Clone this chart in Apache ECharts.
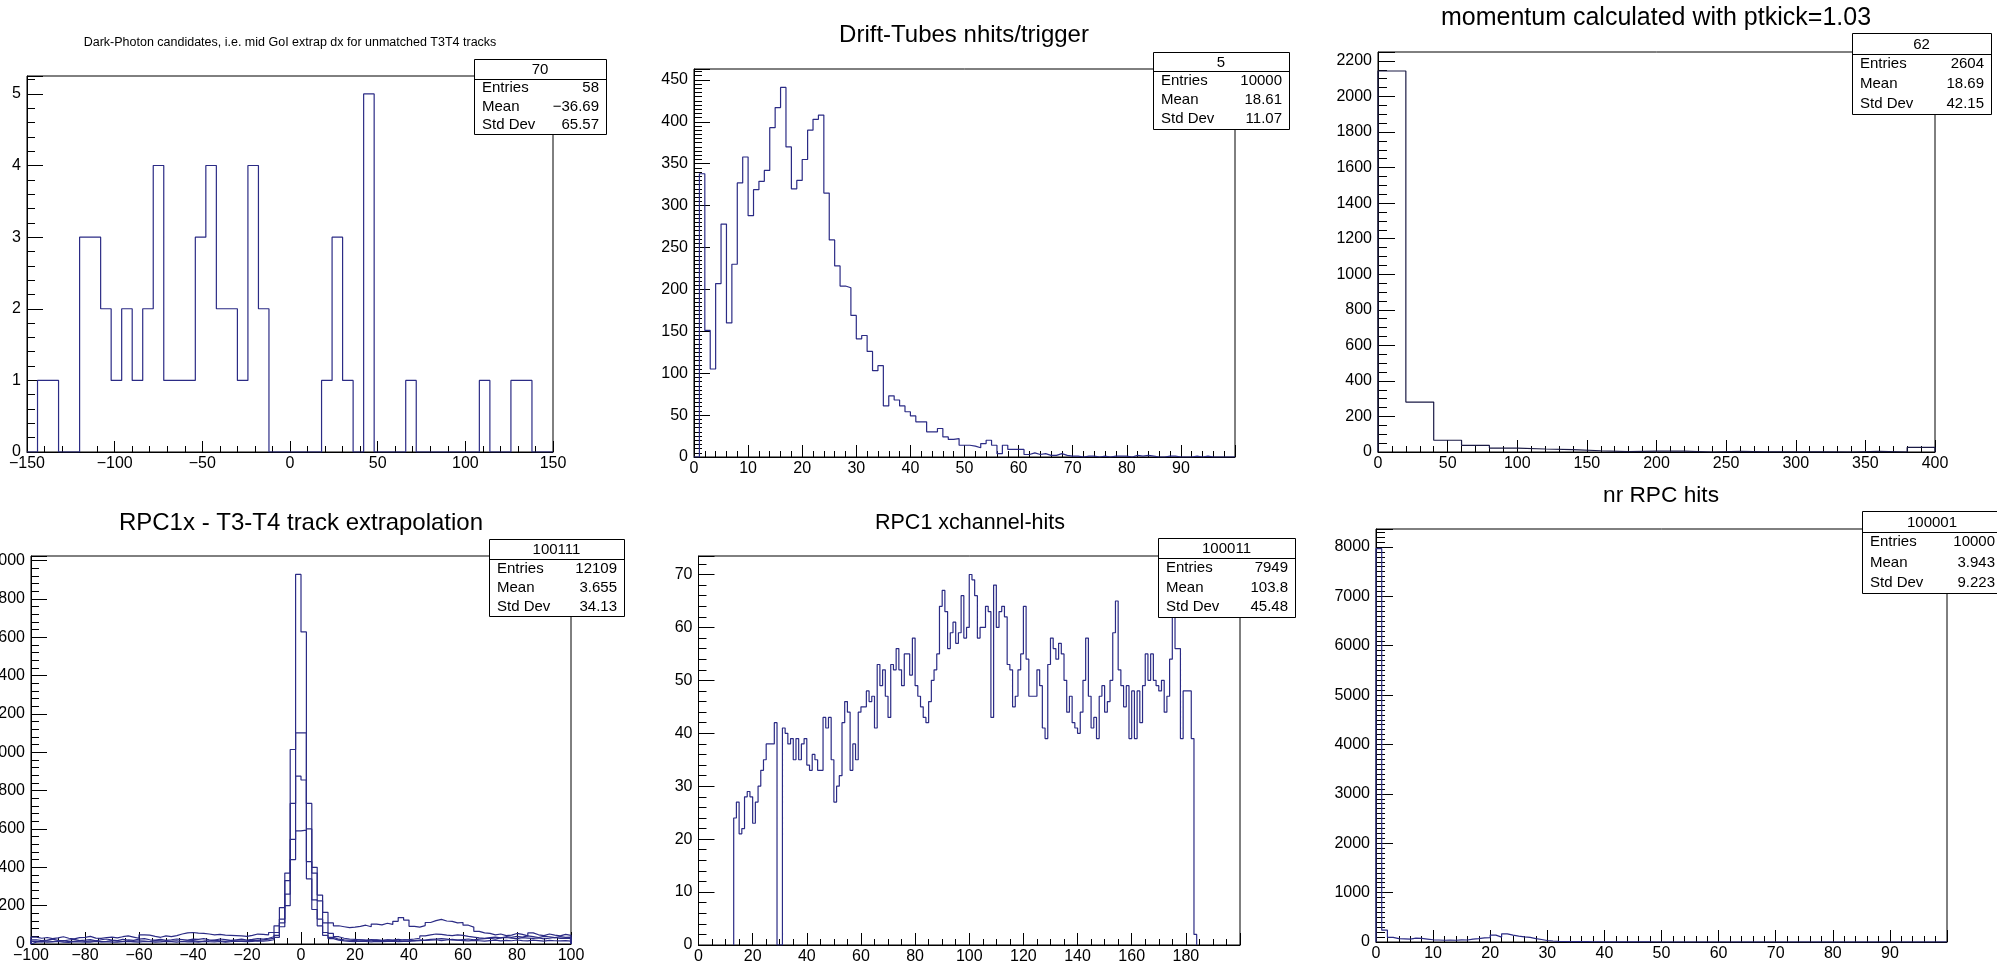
<!DOCTYPE html>
<html>
<head>
<meta charset="utf-8">
<script src="https://cdn.jsdelivr.net/npm/echarts@6/dist/echarts.min.js"></script>
<style>
  html, body { margin: 0; padding: 0; background: #ffffff; }
  #canvas { width: 1997px; height: 964px; }
</style>
</head>
<body>
<div id="canvas"></div>
<script>
// ---------------- histogram contents ----------------

// Pad 1: dark-photon candidates, dx in bins of 6 from -150
const darkPhotonLow = -150, darkPhotonWidth = 6;
const darkPhotonCounts = [0,1,1,0,0,3,3,2,1,2, 1,2,4,1,1,1,3,4,2,2, 1,4,2,0,0,0,0,0,1,3,
                          1,0,5,0,0,0,1,0,0,0, 0,0,0,1,0,0,1,1,0,0];

// Pad 2: drift-tube hits per trigger, unit bins from 0
const driftLow = 0, driftWidth = 1;
const driftCounts = [0,
  338,151,105,207,278,160,230,327,358,288,319,329,342,393,417,441,370,320,330,355,390,403,408,
  315,259,228,204,202,169,141,145,126,103,109,61,73,68,61,54,49,
  42,42,30,30,34,24,21,22,14,14,13,11,16,20,14,4,14,9,9,9,3,5,3,4,2,2,4,2,1,
  1,0,1,1,0,1,0,1,1,1,0,2,1,2,1,0,0,1,1,0,0,0,1,0,1,0,0,0,0,0];

// Pad 3: momentum with ptkick=1.03, bins of 20 from 0
const momentumLow = 0, momentumWidth = 20;
const momentumCounts = [2143,281,66,37,22,17,13,7,2,5,5,0,4,1,1,1,0,3,0,26];

// Pad 4: RPC1x - track extrapolation, four overlaid histograms, bins of 2 from -100
const rpcResLow = -100, rpcResWidth = 2;
const rpcResAll = [
  36,30,34,28,32,38,30,27,33,35,40,31,29,34,36,32,38,42,36,30,48,46,40,35,42,38,44,52,58,60,
  57,55,52,48,50,46,45,44,42,40,45,52,50,48,60,
  95,190,370,1014,1927,1627,733,400,255,165,110,95,90,
  85,88,92,98,90,104,100,108,102,118,138,125,92,88,96,112,122,128,120,118,110,112,98,88,66,58,55,
  48,52,44,46,55,50,42,58,48,44,52,46,42,50,45];
const rpcResB = [
  22,18,20,25,19,16,21,24,18,20,23,17,22,26,20,18,24,21,19,25,28,22,20,24,19,22,26,23,20,25,
  24,28,22,20,26,23,19,22,25,21,24,28,26,30,38,
  60,130,330,733,1101,1101,600,370,225,110,55,38,30,
  26,24,22,20,23,21,19,22,20,24,21,23,26,30,42,48,52,50,46,44,48,45,40,36,32,
  30,34,36,32,38,35,40,36,42,38,34,40,37,33,38,35,36];
const rpcResC = [
  14,12,16,13,15,18,12,14,17,13,15,16,12,14,18,15,13,16,14,17,15,13,18,16,14,15,17,13,16,18,
  14,15,17,19,16,14,18,15,17,16,20,18,22,25,30,
  45,110,260,545,875,855,430,230,130,60,35,25,22,
  20,18,22,19,17,20,18,21,19,17,22,20,18,21,19,20,22,18,21,24,20,23,26,22,25,28,30,26,32,34,
  30,28,33,31,29,32,27,30,34,29,31,28];
const rpcResD = [
  10,12,9,11,13,10,8,12,11,9,10,13,11,12,10,9,12,14,11,10,13,12,10,11,14,12,9,13,11,12,
  10,14,12,11,13,10,12,15,13,12,14,16,15,18,22,
  35,90,200,440,590,594,340,180,95,45,28,20,16,
  14,12,15,13,11,14,12,13,15,12,14,13,16,18,20,24,26,28,25,22,20,18,16,19,17,15,18,20,16,19,
  17,21,18,16,20,18,15,19,17,16,18,15];

// Pad 5: RPC1 x-channel hits, one bin per channel, first filled channel 13
const xchanFirst = 13, xchanWidth = 1;
const xchanCounts = [
  24,27,21,22,28,29,28,23,27,30,33,35,38,38,38,42, 0,0, 41,40,
  38,39,35,39,35,38,39,34,33,36,35,33,33,43,41,43,35,27,30,32,42,46,44,33,38,35,44,45,45,
  48,46,47,41,53,49,52,47,43,53,52,56,52,49,55,55,51,58,49,47,
  45,43,42,46,50,52,55,64,67,63,56,59,61,57,59,66,58,60,70,69,66,58,60,60,64,63,43,68,60,63,
  64,62,53,52,45,47,52,55,64,54,47,47,47,52,49,41,39,53,58,56,
  54,57,55,50,44,47,42,41,40,44,50,58,47,41,43,39,47,49,44,46,50,59,65,52,49,45,49,39,48,39,
  48,42,49,55,50,55,50,49,48,50,44,47,54,
  62,56,56,39,48,48,48,39,2];

// Pad 6: number of RPC hits, unit bins from 0
const nrpcLow = 0, nrpcWidth = 1;
const nrpcCounts = [7966,
  240,95,70,65,60,80,75,60,45,40,35,40,35,45,40,60,70,85,90,140,100,165,140,120,105,95,70,50,30,20,
  12,10,8,8,6,6,5,5,4,4,3,3,2,2,2,1,1,
  0,0,0,0,0,0,0,0,0,0,0,0,0,0,0,0,0,0,0,0,0,0,0,0,0,0,0,0,0,0,0,0,0,0,0,0,0,0,0,0,0,0,0,0,0,0,0,0,0,0,0,0];

// Titles and statistics boxes
const padTitles = [
  'Dark-Photon candidates, i.e. mid GoI extrap dx for unmatched T3T4 tracks',
  'Drift-Tubes nhits/trigger',
  'momentum calculated with ptkick=1.03',
  'RPC1x - T3-T4 track extrapolation',
  'RPC1 xchannel-hits',
  'nr RPC hits'
];
const statNames = ['70', '5', '62', '100111', '100011', '100001'];
const statEntries = ['58', '10000', '2604', '12109', '7949', '10000'];
const statMeans = ['\u221236.69', '18.61', '18.69', '3.655', '103.8', '3.943'];
const statStdDevs = ['65.57', '11.07', '42.15', '34.13', '45.48', '9.223'];

// ---------------- drawing ----------------
const FONT = '"Liberation Sans", Arial, Helvetica, sans-serif';
const HIST_COLOR = '#2b2b85';
const HIST_DARK = '#1a1a45';

// outline of a histogram as bin-edge points, closed down to zero at both ends
function outline(counts, low, width) {
  const pts = [[low, 0]];
  counts.forEach((v, i) => {
    pts.push([low + i * width, v]);
    pts.push([low + (i + 1) * width, v]);
  });
  pts.push([low + counts.length * width, 0]);
  return pts;
}

function fmtNum(v) { return String(v).replace('-', '\u2212'); }

// pad frame geometry
const pads = [
  { left: 27,    top: 76,  width: 526,   height: 376, xmin: -150, xmax: 150, xint: 50,  xsub: 5, ymax: 5.25, yint: 1,    ysub: 5,  xlabMax: 150 },
  { left: 694,   top: 69,  width: 541,   height: 388, xmin: 0,    xmax: 100, xint: 10,  xsub: 5, ymax: 463,  yint: 50,   ysub: 10, xlabMax: 90 },
  { left: 1378,  top: 52,  width: 557,   height: 400, xmin: 0,    xmax: 400, xint: 50,  xsub: 5, ymax: 2250, yint: 200,  ysub: 4,  xlabMax: 400 },
  { left: 31,    top: 556, width: 540,   height: 388, xmin: -100, xmax: 100, xint: 20,  xsub: 4, ymax: 2023, yint: 200,  ysub: 5,  xlabMax: 100 },
  { left: 698.5, top: 556, width: 541.5, height: 389, xmin: 0,    xmax: 200, xint: 20,  xsub: 4, ymax: 73.5, yint: 10,   ysub: 5,  xlabMax: 180 },
  { left: 1376,  top: 529, width: 571,   height: 413, xmin: 0,    xmax: 100, xint: 10,  xsub: 5, ymax: 8364, yint: 1000, ysub: 10, xlabMax: 90 }
];

const grid = [], xAxis = [], yAxis = [];
pads.forEach((p, i) => {
  grid.push({
    left: p.left, top: p.top, width: p.width, height: p.height,
    show: true, borderColor: '#000', borderWidth: 1, backgroundColor: 'transparent',
    containLabel: false, outerBoundsMode: 'none'
  });
  const xTick = Math.round(0.03 * p.height);
  const yTick = Math.round(0.03 * p.width);
  xAxis.push({
    type: 'value', gridIndex: i, min: p.xmin, max: p.xmax, interval: p.xint,
    axisLine: { show: true, onZero: false, lineStyle: { color: '#000', width: 1 } },
    axisTick: { show: true, inside: true, length: xTick, lineStyle: { color: '#000', width: 1 } },
    minorTick: { show: true, splitNumber: p.xsub, length: Math.round(xTick / 2), lineStyle: { color: '#000', width: 1 } },
    splitLine: { show: false }, minorSplitLine: { show: false },
    axisLabel: {
      show: true, margin: 4, color: '#000', fontSize: 16, fontFamily: FONT,
      formatter: v => (v > p.xlabMax + 1e-9 || Math.abs(v / p.xint - Math.round(v / p.xint)) > 1e-6) ? '' : fmtNum(v)
    }
  });
  yAxis.push({
    type: 'value', gridIndex: i, min: 0, max: p.ymax, interval: p.yint,
    axisLine: { show: true, onZero: false, lineStyle: { color: '#000', width: 1 } },
    axisTick: { show: true, inside: true, length: yTick, lineStyle: { color: '#000', width: 1 } },
    minorTick: { show: true, splitNumber: p.ysub, length: Math.round(yTick / 2), lineStyle: { color: '#000', width: 1 } },
    splitLine: { show: false }, minorSplitLine: { show: false },
    axisLabel: {
      show: true, margin: 6, color: '#000', fontSize: 16, fontFamily: FONT,
      formatter: v => Math.abs(v / p.yint - Math.round(v / p.yint)) > 1e-6 ? '' : fmtNum(v)
    }
  });
});

function histSeries(idx, counts, low, width, color) {
  return {
    type: 'line', xAxisIndex: idx, yAxisIndex: idx,
    data: outline(counts, low, width),
    showSymbol: false, symbol: 'none', clip: true, silent: true,
    lineStyle: { color: color || HIST_COLOR, width: 1.2 },
    animation: false
  };
}

const series = [
  histSeries(0, darkPhotonCounts, darkPhotonLow, darkPhotonWidth),
  histSeries(1, driftCounts, driftLow, driftWidth),
  histSeries(2, momentumCounts, momentumLow, momentumWidth, HIST_DARK),
  histSeries(3, rpcResAll, rpcResLow, rpcResWidth),
  histSeries(3, rpcResB, rpcResLow, rpcResWidth),
  histSeries(3, rpcResC, rpcResLow, rpcResWidth),
  histSeries(3, rpcResD, rpcResLow, rpcResWidth),
  histSeries(4, xchanCounts, xchanFirst, xchanWidth),
  histSeries(5, nrpcCounts, nrpcLow, nrpcWidth)
];

// titles and stat boxes
const graphic = [];
function label(x, y, text, size, align) {
  graphic.push({
    type: 'text', x: x, y: y, z: 120, silent: true,
    style: {
      text: text, font: size + 'px ' + FONT, fill: '#000',
      textAlign: align, textVerticalAlign: 'middle', align: align, verticalAlign: 'middle'
    }
  });
}

const titlePlaces = [
  { x: 290,  y: 43,  size: 12.5 },
  { x: 964,  y: 35,  size: 24 },
  { x: 1656, y: 18,  size: 25 },
  { x: 301,  y: 523, size: 24 },
  { x: 970,  y: 523, size: 21.5 },
  { x: 1661, y: 496, size: 22.7 }
];
titlePlaces.forEach((t, i) => label(t.x, t.y, padTitles[i], t.size, 'center'));

const statBoxes = [
  { x: 474,  y: 59,  w: 132, h: 75, head: 20 },
  { x: 1153, y: 52,  w: 136, h: 77, head: 19 },
  { x: 1852, y: 33,  w: 139, h: 81, head: 21 },
  { x: 489,  y: 539, w: 135, h: 77, head: 20 },
  { x: 1158, y: 538, w: 137, h: 79, head: 20 },
  { x: 1862, y: 511, w: 140, h: 82, head: 21 }
];
statBoxes.forEach((b, i) => {
  const bx = Math.round(b.x) + 0.5, by = Math.round(b.y) + 0.5;
  graphic.push({ type: 'rect', z: 100, silent: true,
    shape: { x: bx, y: by, width: b.w, height: b.h },
    style: { fill: '#fff', stroke: '#000', lineWidth: 1 } });
  graphic.push({ type: 'line', z: 101, silent: true,
    shape: { x1: bx, y1: by + b.head, x2: bx + b.w, y2: by + b.head },
    style: { stroke: '#000', lineWidth: 1 } });
  label(b.x + b.w / 2, b.y + b.head / 2 + 1, statNames[i], 15, 'center');
  const rows = [['Entries', statEntries[i]], ['Mean', statMeans[i]], ['Std Dev', statStdDevs[i]]];
  rows.forEach((r, k) => {
    const yy = b.y + b.head + (b.h - b.head) * (k + 0.5) / 3;
    label(b.x + 8, yy, r[0], 15, 'left');
    label(b.x + b.w - 7, yy, r[1], 15, 'right');
  });
});

const chart = echarts.init(document.getElementById('canvas'), null, { renderer: 'canvas' });
chart.setOption({
  animation: false,
  backgroundColor: '#ffffff',
  grid: grid,
  xAxis: xAxis,
  yAxis: yAxis,
  series: series,
  graphic: graphic
});
</script>
</body>
</html>
